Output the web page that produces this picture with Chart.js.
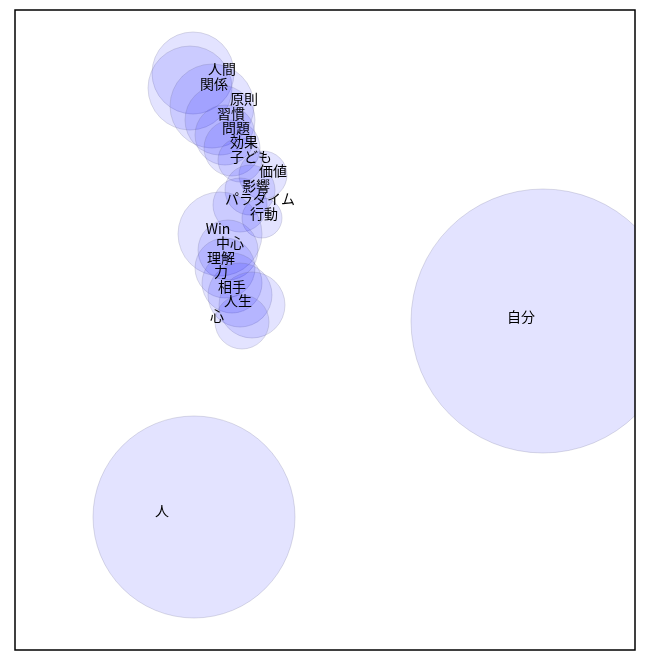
<!DOCTYPE html>
<html>
<head>
<meta charset="utf-8">
<script src="https://cdn.jsdelivr.net/npm/chart.js"></script>
<style>
  body { margin: 0; background: #fff; }
  #wrap { width: 660px; height: 660px; }
</style>
</head>
<body>
<div id="wrap"><canvas id="myChart" width="660" height="660"></canvas></div>
<script>
// words and where things sit (plot units, y runs downward)
const words = ['人間', '関係', '原則', '習慣', '問題', '効果', '子ども', '価値', '影響', 'パラダイム',
  '行動', 'Win', '中心', '理解', '力', '相手', '人生', '心', '自分', '人']
const bubbleX = [178, 175, 197, 205, 210, 217, 225, 248, 235, 225, 247, 205, 213, 210, 217, 225, 237, 227, 528, 179]
const bubbleY = [63, 78, 96, 110, 125, 138, 150, 165, 180, 195, 208, 224, 240, 258, 273, 285, 295, 312, 311, 507]
const bubbleR = [41, 42, 42, 35, 30, 28, 22, 24, 25, 27, 20, 42, 30, 30, 30, 32, 33, 27, 132, 101]
const labelX = [207, 199, 229, 216, 221, 229, 236, 258, 241, 245, 249, 203, 215, 206, 206, 217, 223, 202, 506, 147]
const labelY = [59, 74, 89, 104, 118, 132, 147, 161, 176, 189, 204, 219, 233, 248, 262, 277, 291, 306, 307, 501]

const points = words.map((w, i) => ({ x: bubbleX[i], y: bubbleY[i], r: bubbleR[i] }))

// word labels + frame
const wordLabels = {
  id: 'wordLabels',
  afterDatasetsDraw(chart) {
    const { ctx, chartArea, scales } = chart
    ctx.save()
    ctx.font = '14px "Noto Sans CJK JP", "Noto Sans", sans-serif'
    ctx.fillStyle = '#000'
    ctx.textAlign = 'center'
    ctx.textBaseline = 'middle'
    words.forEach((w, i) => {
      ctx.fillText(w, scales.x.getPixelForValue(labelX[i]), scales.y.getPixelForValue(labelY[i]))
    })
    ctx.strokeStyle = '#000'
    ctx.lineWidth = 1.5
    ctx.strokeRect(chartArea.left, chartArea.top, chartArea.right - chartArea.left, chartArea.bottom - chartArea.top)
    ctx.restore()
  }
}

let ctx = document.getElementById('myChart').getContext('2d')
let chart = new Chart(ctx, {
  type: 'bubble',
  data: {
    datasets: [
      {
        data: points,
        backgroundColor: 'rgba(0, 0, 255, 0.11)',
        borderColor: 'rgba(100, 100, 140, 0.22)',
        borderWidth: 1,
        hoverRadius: 0
      }
    ]
  },
  options: {
    responsive: false,
    animation: false,
    layout: { autoPadding: false, padding: { left: 15, right: 25, top: 10, bottom: 10 } },
    plugins: { legend: { display: false }, tooltip: { enabled: false } },
    scales: {
      x: { display: false, min: 0, max: 620 },
      y: { display: false, min: 0, max: 640, reverse: true }
    }
  },
  plugins: [wordLabels]
})
</script>
</body>
</html>
